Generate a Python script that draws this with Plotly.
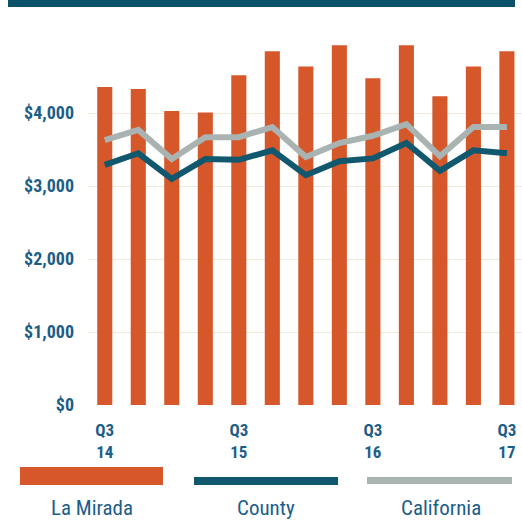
import plotly.graph_objects as go

# ---- data ----
quarters = ["Q3 14", "Q4 14", "Q1 15", "Q2 15", "Q3 15", "Q4 15", "Q1 16",
            "Q2 16", "Q3 16", "Q4 16", "Q1 17", "Q2 17", "Q3 17"]
la_mirada = [4360, 4330, 4030, 4010, 4520, 4850, 4640, 4930, 4480, 4930, 4230, 4640, 4850]
county = [3290, 3450, 3100, 3370, 3360, 3490, 3150, 3340, 3380, 3590, 3210, 3490, 3450]
california = [3630, 3770, 3370, 3670, 3670, 3810, 3400, 3590, 3690, 3850, 3410, 3810, 3810]
tick_idx = [0, 4, 8, 12]
tick_labels = ["Q3<br>14", "Q3<br>15", "Q3<br>16", "Q3<br>17"]
y_ticks = [0, 1000, 2000, 3000, 4000]
y_tick_labels = ["$0", "$1,000", "$2,000", "$3,000", "$4,000"]
series_names = ["La Mirada", "County", "California"]

ORANGE = "#d5572a"
TEAL = "#11586f"
GREY = "#a9b3b1"
TXT = "#1c5e88"
NARROW = "Liberation Sans Narrow, Arial Narrow, Roboto Condensed, sans-serif"

W, H = 522, 529
L, R, T, B = 88, 0, 11, 124
PW, PH = W - L - R, H - T - B


def px(x):
    return (x - L) / PW


def py(y):
    return (H - B - y) / PH


x = list(range(len(quarters)))
fig = go.Figure()
fig.add_trace(go.Bar(x=x, y=la_mirada, name=series_names[0], marker_color=ORANGE,
                     width=0.45, marker_line_width=0))
fig.add_trace(go.Scatter(x=x, y=california, name=series_names[2], mode="lines",
                         line=dict(color=GREY, width=6)))
fig.add_trace(go.Scatter(x=x, y=county, name=series_names[1], mode="lines",
                         line=dict(color=TEAL, width=6)))

shapes = [
    # top header band
    dict(type="rect", xref="paper", yref="paper", x0=px(8), x1=px(515), y0=py(7), y1=py(-5),
         fillcolor="#0b5169", line_width=0, layer="above"),
    # legend swatches
    dict(type="rect", xref="paper", yref="paper", x0=px(20), x1=px(163), y0=py(485), y1=py(467),
         fillcolor=ORANGE, line_width=0),
    dict(type="rect", xref="paper", yref="paper", x0=px(194), x1=px(338), y0=py(485), y1=py(477),
         fillcolor=TEAL, line_width=0),
    dict(type="rect", xref="paper", yref="paper", x0=px(367), x1=px(512), y0=py(484), y1=py(477),
         fillcolor=GREY, line_width=0),
]
annotations = []
for name, cx in zip(series_names, [92, 266, 441]):
    annotations.append(dict(text=name, xref="paper", yref="paper", x=px(cx), y=py(508),
                            showarrow=False, xanchor="center", yanchor="middle",
                            font=dict(family=NARROW, size=21, color=TXT)))

fig.update_layout(
    width=W, height=H,
    margin=dict(l=L, r=R, t=T, b=B),
    paper_bgcolor="white", plot_bgcolor="white",
    showlegend=False,
    shapes=shapes, annotations=annotations,
    bargap=0.55,
)
fig.update_xaxes(range=[-0.5, 12.45], tickmode="array", tickvals=tick_idx, ticktext=tick_labels,
                 showgrid=False, zeroline=False, showline=False, ticks="",
                 tickfont=dict(family=NARROW, size=17, color=TXT, weight="bold"),
                 ticklabelstandoff=13)
fig.update_yaxes(range=[0, 5400], tickmode="array", tickvals=y_ticks, ticktext=y_tick_labels,
                 showgrid=True, gridcolor="#efe9d9", gridwidth=1, zeroline=False, showline=False,
                 ticks="", tickfont=dict(family=NARROW, size=18, color=TXT, weight="bold"),
                 ticklabelstandoff=13)

fig.write_html("out.html", config={"displayModeBar": False},
               post_script="document.body.style.margin='0px';document.body.style.overflow='hidden';")
